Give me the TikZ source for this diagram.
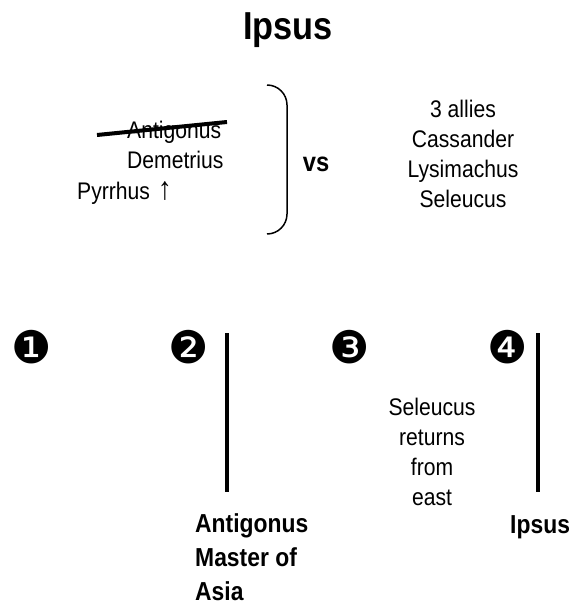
\documentclass[tikz,border=0pt]{standalone}
\usepackage{fontspec}
\setmainfont{Liberation Sans}[FakeStretch=0.88]
\newfontfamily\dingfont{DejaVu Sans}
\usetikzlibrary{calc, positioning}
\tikzset{
    txt/.style={inner sep=0pt, font=\fontsize{24}{30}\selectfont},
    boldtxt/.style={inner sep=0pt, font=\fontsize{26}{34}\selectfont\bfseries},
    stepnum/.style={inner sep=0pt, font=\fontsize{45}{45}\selectfont\dingfont},
    bar/.style={line width=4pt}
}

\begin{document}
\begin{tikzpicture}[x=1pt, y=-1pt]
                        \useasboundingbox (0, 0) rectangle (580, 609);

                        \node[inner sep=0pt, anchor=base, font=\fontsize{39}{39}\selectfont\bfseries]
                            (title) at (288, 40) {Ipsus};

                        % who fought whom
                        \node[txt, anchor=base west] (antigonus) at (127, 139) {Antigonus};
                        \node[txt, anchor=base west] (demetrius) at (127, 169) {Demetrius};
                        \node[txt, anchor=base west] (pyrrhus) at (77, 200)
                            {Pyrrhus\hspace{8pt}{\fontsize{32}{32}\selectfont↑}};
                        \coordinate (crossL) at (97, 135);
                        \coordinate (crossR) at (227, 122);
                        \draw[line width=4pt] (crossL) -- (crossR);

                        \coordinate (brTop) at (267, 85);
                        \coordinate (brBot) at (267, 234);
                        \draw[line width=1.5pt, rounded corners=20pt]
                        (brTop) -- (287, 85) -- (287, 234) -- (brBot);

                        \node[inner sep=0pt, anchor=base, font=\fontsize{27}{27}\selectfont\bfseries]
                            (vs) at (316, 172) {vs};
                        % base of a multi-line node is its last line
                        \node[txt, anchor=base, align=center] (allies) at (463, 208)
                            {3 allies\\Cassander\\Lysimachus\\Seleucus};

                        % timeline
                        \node[stepnum] (n1) at (32, 347) {❶};
                        \node[stepnum] (n2) at (189, 347) {❷};
                        \node[stepnum] (n3) at (350, 347) {❸};
                        \node[stepnum] (n4) at (508, 347) {❹};

                        \coordinate (barAtop) at (227, 333);
                        \coordinate (barAbot) at (227, 492);
                        \coordinate (barBtop) at (538, 333);
                        \coordinate (barBbot) at (538, 492);
                        \draw[bar]
                        (barAtop) -- (barAbot)
                        (barBtop) -- (barBbot);

                        \node[txt, anchor=base, align=center] (returns) at (432, 505)
                            {Seleucus\\returns\\from\\east};
                        \node[boldtxt, anchor=base west, align=left] (master) at (195, 600)
                            {Antigonus\\Master of\\Asia};
                        \node[boldtxt, anchor=base west] (battle) at (510, 533) {Ipsus};
                    \end{tikzpicture}
\end{document}
